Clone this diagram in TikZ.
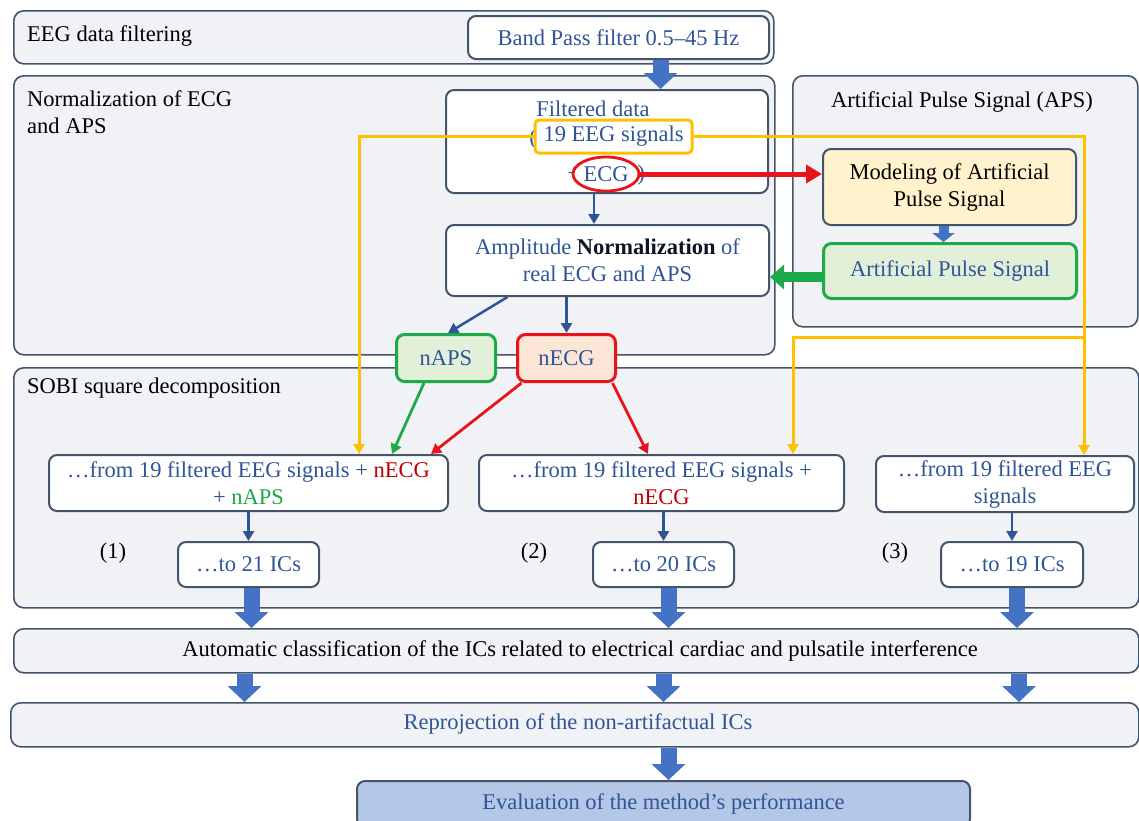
\documentclass[tikz,border=0pt]{standalone}
\usepackage{fontspec}
\setmainfont{Liberation Serif}
\usetikzlibrary{arrows.meta,shapes.geometric}
\definecolor{grpbg}{HTML}{F0F2F5}
\definecolor{grpline}{HTML}{44546A}
\definecolor{txtblue}{HTML}{2F5597}
\definecolor{arrblue}{HTML}{4472C4}
\definecolor{yel}{HTML}{FFC000}
\definecolor{redc}{HTML}{E8141B}
\definecolor{redtxt}{HTML}{C00000}
\definecolor{grn}{HTML}{1DAA4B}
\definecolor{orangebg}{HTML}{FFF2CC}
\definecolor{greenbg}{HTML}{E2F0D9}
\definecolor{redbg}{HTML}{FBE5D6}
\definecolor{evalbg}{HTML}{B4C7E7}

\begin{document}
\begin{tikzpicture}[x=1pt, y=-1pt,
  every node/.style={font=\fontsize{22.5}{27}\selectfont},
  grp/.style={draw=grpline, line width=1.6pt, fill=grpbg, rounded corners=10pt, anchor=north west, inner sep=0pt},
  wbox/.style={draw=grpline, line width=2pt, fill=white, rounded corners=8pt, anchor=north west, inner sep=0pt, align=center, text=txtblue},
  ttl/.style={text=black, inner sep=0pt},
  thinarr/.style={txtblue, line width=2.5pt, -{Triangle[length=10pt,width=11pt]}},
  yarr/.style={yel, line width=3pt, -{Triangle[length=10pt,width=11pt]}},
  redarr/.style={redc, line width=2.8pt, -{Triangle[length=10pt,width=11pt]}},
  grnarr/.style={grn, line width=2.8pt, -{Triangle[length=10pt,width=11pt]}},
  blockarr/.style={arrblue, line width=16pt, -{Triangle[length=16pt,width=33pt]}}]
\useasboundingbox (0,0) rectangle (1139,820);

% group panels
\node[grp, minimum width=760, minimum height=53] (filtgrp) at (13,10) {};
\node[grp, minimum width=761, minimum height=279] (normgrp) at (13,75) {};
\node[grp, minimum width=345, minimum height=251] (apsgrp) at (792,75) {};
\node[grp, minimum width=1125, minimum height=240] (sobigrp) at (13,367) {};
\node[grp, minimum width=1125, minimum height=44] (clsgrp) at (13,628) {};
\node[grp, minimum width=1128, minimum height=44] (repgrp) at (10,702) {};

\node[ttl, anchor=west] (filtttl) at (27,36) {EEG data filtering};
\node[ttl, anchor=north west, align=left] (normttl) at (27,90) {Normalization of ECG\\and APS};
\node[ttl] (apsttl) at (962,102) {Artificial Pulse Signal (APS)};
\node[ttl, anchor=west] (sobittl) at (27,388) {SOBI square decomposition};

\node[wbox, minimum width=301, minimum height=43] (band) at (467,15) {Band Pass filter 0.5--45 Hz};

% filtered data
\node[wbox, minimum width=322, minimum height=103] (fd) at (445,89) {};
\node[text=txtblue] (fdttl) at (593,109) {Filtered data};
\node[text=txtblue] (lpar) at (533,139) {(};
\node[text=txtblue] (plus) at (574,174) {+};
\node[text=txtblue] (rpar) at (641,175) {)};
\node[draw=yel, line width=3pt, fill=white, rounded corners=4pt, text=txtblue, inner sep=0pt, minimum width=157, minimum height=33] (eeg) at (613.5,136.5) {19 EEG signals};
\node[ellipse, draw=redc, line width=2.8pt, fill=white, text=txtblue, inner sep=0pt, minimum width=66, minimum height=34] (ecg) at (606,174) {ECG};

\node[wbox, minimum width=323, minimum height=71] (ampl) at (445,224) {Amplitude \textbf{\color{black!75!txtblue}Normalization} of\\real ECG and APS};

% APS
\node[wbox, fill=orangebg, text=black, minimum width=253, minimum height=76] (model) at (822,148) {Modeling of Artificial\\Pulse Signal};
\node[wbox, fill=greenbg, draw=grn, line width=3pt, minimum width=253, minimum height=55] (apsn) at (822,242) {Artificial Pulse Signal};

\node[wbox, fill=greenbg, draw=grn, line width=3pt, minimum width=99, minimum height=47] (naps) at (395,333) {nAPS};
\node[wbox, fill=redbg, draw=redc, line width=3pt, minimum width=98, minimum height=47] (necg) at (516,333) {nECG};

% SOBI
\node[wbox, minimum width=399, minimum height=56] (boxA) at (48,454) {…from 19 filtered EEG signals + \textcolor{redtxt}{nECG}\\+ \textcolor{grn}{nAPS}};
\node[wbox, minimum width=365, minimum height=56] (boxB) at (478,454) {…from 19 filtered EEG signals +\\\textcolor{redtxt}{nECG}};
\node[wbox, minimum width=258, minimum height=56] (boxC) at (875,455) {…from 19 filtered EEG\\signals};
\node[ttl] (n1) at (113,553) {(1)};
\node[ttl] (n2) at (534,553) {(2)};
\node[ttl] (n3) at (895,553) {(3)};
\node[wbox, minimum width=141, minimum height=45] (ic21) at (177,541) {…to 21 ICs};
\node[wbox, minimum width=141, minimum height=45] (ic20) at (592,541) {…to 20 ICs};
\node[wbox, minimum width=142, minimum height=45] (ic19) at (940,541) {…to 19 ICs};

\node[ttl] (clsttl) at (580,651) {Automatic classification of the ICs related to electrical cardiac and pulsatile interference};
\node[text=txtblue, inner sep=0pt] (repttl) at (578,724) {Reprojection of the non-artifactual ICs};
\node[wbox, fill=evalbg, minimum width=613, minimum height=46] (eval) at (356,780) {Evaluation of the method's performance};

% connectors
\draw[blockarr] ([xshift=42]band.south) -- ([xshift=42]band.south |- fd.north);
\draw[thinarr] ([xshift=-13]fd.south) -- ([xshift=-13]fd.south |- ampl.north);
\draw[arrblue, line width=10pt, -{Triangle[length=9pt,width=22pt]}] ([xshift=-6]model.south) -- ([xshift=-6]model.south |- apsn.north);
\draw[grn, line width=10pt, -{Triangle[length=14pt,width=24pt]}] ([yshift=-6]apsn.west) -- ([yshift=-6]apsn.west -| ampl.east);
\draw[redc, line width=5pt, -{Triangle[length=16pt,width=18pt]}] (ecg.east) -- (ecg.east -| model.west);

\draw[yarr] (eeg.west) -| ([xshift=110.5]boxA.north);
\draw[yarr] (eeg.east) -| ([xshift=79]boxC.north);
\coordinate (ysplit) at (1083,337);
\draw[yarr] (ysplit) -| ([xshift=131.5]boxB.north);

\draw[thinarr] ([xshift=-100]ampl.south) -- ([xshift=2]naps.north);
\draw[thinarr] (necg.north |- ampl.south) -- (necg.north);
\draw[grnarr] ([xshift=-22]naps.south) -- ([xshift=143.5]boxA.north);
\draw[redarr] ([xshift=-45]necg.south) -- ([xshift=182.5]boxA.north);
\draw[redarr] ([xshift=46]necg.south) -- ([xshift=-13.5]boxB.north);

\draw[thinarr] (boxA.south) -- (ic21.north);
\draw[thinarr] (ic20.north |- boxB.south) -- (ic20.north);
\draw[thinarr] (ic19.north |- boxC.south) -- (ic19.north);

\draw[blockarr] ([xshift=3]ic21.south) -- ([xshift=3]ic21.south |- clsgrp.north);
\draw[blockarr] ([xshift=5]ic20.south) -- ([xshift=5]ic20.south |- clsgrp.north);
\draw[blockarr] ([xshift=5]ic19.south) -- ([xshift=5]ic19.south |- clsgrp.north);
\draw[blockarr] ([xshift=-4]ic21.south |- clsgrp.south) -- ([xshift=-4]ic21.south |- repgrp.north);
\draw[blockarr] ([xshift=0]ic20.south |- clsgrp.south) -- ([xshift=0]ic20.south |- repgrp.north);
\draw[blockarr] ([xshift=7]ic19.south |- clsgrp.south) -- ([xshift=7]ic19.south |- repgrp.north);
\draw[blockarr] ([xshift=5]eval.north |- repgrp.south) -- ([xshift=5]eval.north);
\end{tikzpicture}
\end{document}
